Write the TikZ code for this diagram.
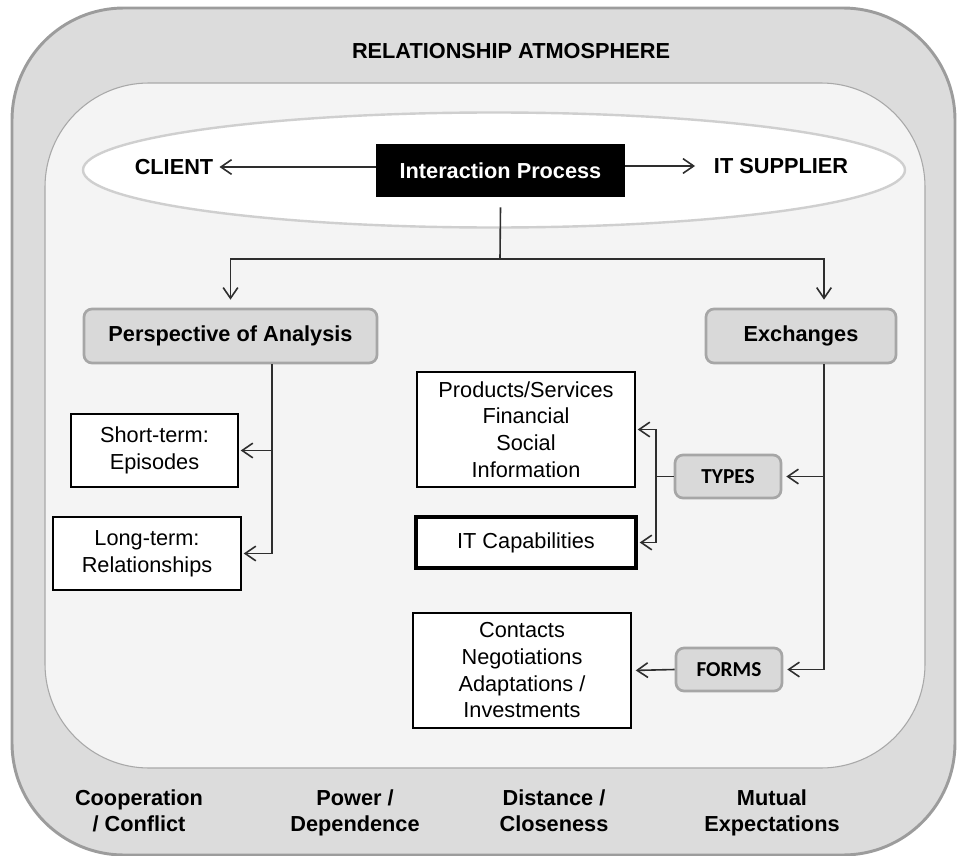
\documentclass[tikz,border=0pt]{standalone}
\usepackage{fontspec}
\setmainfont{Liberation Sans}
\newfontfamily\calib{Carlito}
\usetikzlibrary{arrows.meta,shapes.geometric}
\definecolor{outerfill}{HTML}{DCDCDC}
\definecolor{outerline}{HTML}{9C9C9C}
\definecolor{innerfill}{HTML}{F4F4F4}
\definecolor{innerline}{HTML}{A8A8A8}
\definecolor{ellline}{HTML}{CFCFCF}
\definecolor{boxfill}{HTML}{D9D9D9}
\definecolor{boxline}{HTML}{A6A6A6}
\definecolor{connc}{HTML}{2E2E2E}
\tikzset{
  big/.style={font=\fontsize{16.3pt}{20pt}\selectfont\bfseries, align=center},
  reg/.style={font=\fontsize{16.3pt}{20pt}\selectfont, align=center},
  graybox/.style={big, draw=boxline, line width=2pt, fill=boxfill, rounded corners=6pt, inner sep=0pt},
  smallbox/.style={graybox, font=\fontsize{16pt}{19pt}\selectfont\calib\bfseries, minimum width=79.5pt, minimum height=32.25pt},
  textbox/.style={reg, draw=black, line width=1.1pt, fill=white, inner sep=0pt},
  conn/.style={draw=connc, line width=1.2pt},
  arr/.style={conn, -{Straight Barb[length=8pt,width=11pt,line width=1.2pt]}},
  lab/.style={big, inner sep=0pt}
}
\begin{document}
\begin{tikzpicture}[x=0.75pt,y=-0.75pt]
\useasboundingbox (0,0) rectangle (957,856);
% outer atmosphere
\draw[fill=outerfill, draw=outerline, line width=2.2pt, rounded corners=84pt] (12,8) rectangle (955,855);
% inner area
\draw[fill=innerfill, draw=innerline, line width=0.8pt, rounded corners=78pt] (45,83) rectangle (925,768);
\node[lab] (atm) at (511,51) {RELATIONSHIP ATMOSPHERE};
% ellipse
\node[ellipse, draw=ellline, fill=white, line width=1.8pt, minimum width=616.5pt, minimum height=86.25pt, inner sep=0pt] (ell) at (494,170) {};
\node[big, fill=black, text=white, minimum width=186.75pt, minimum height=39.75pt, inner sep=0pt] (ip) at (500.5,170.5) {Interaction Process};
\node[lab, inner xsep=4.5pt] (client) at (174,167) {CLIENT};
\node[lab, inner xsep=14pt] (sup) at (781,166) {IT SUPPLIER};
\draw[arr] (ip.west |- client) -- (client.east);
\draw[arr] (ip.east |- sup) -- (sup.west);
% level 2
\node[graybox, minimum width=219.75pt, minimum height=40.5pt] (persp) at (230.5,336) {Perspective of Analysis};
\node[graybox, minimum width=142.5pt, minimum height=40.5pt] (exch) at (801,336) {Exchanges};
\coordinate (j1) at (500,259);
\coordinate (ev) at (824,400);
\coordinate (pv) at (272,400);
\coordinate (tv) at (656,400);
\draw[conn] ([yshift=-7.5pt]ip.south) -- (j1);
\draw[arr, shorten >=6pt] (j1) -| (persp.north);
\draw[arr, shorten >=6pt] (j1) -| (exch.north -| ev);
% perspective children
\node[textbox, minimum width=125.25pt, minimum height=54.75pt] (short) at (154.5,450.5) {Short-term:\\Episodes};
\node[textbox, minimum width=141pt, minimum height=54.75pt] (long) at (147,553.5) {Long-term:\\Relationships};
\draw[arr, shorten >=1.5pt] (persp.south -| pv) |- (long.east);
\draw[arr, shorten >=1.5pt] (pv |- short) -- (short.east);
% exchanges children
\node[smallbox] (types) at (728,476.5) {TYPES};
\node[smallbox] (forms) at (729,669.5) {FORMS};
\node[textbox, minimum width=163.5pt, minimum height=86.25pt] (prod) at (526,429.5) {Products/Services\\Financial\\Social\\Information};
\node[textbox, line width=2.6pt, minimum width=165pt, minimum height=38.25pt] (itcap) at (526,542.5) {IT Capabilities};
\node[textbox, minimum width=163.5pt, minimum height=86.25pt] (cont) at (522,670.5) {Contacts\\Negotiations\\Adaptations /\\Investments};
\draw[arr, shorten >=3pt] (exch.south -| ev) |- (forms.east);
\draw[arr, shorten >=3pt] (ev |- types) -- (types.east);
\draw[conn] (types.west) -- (tv |- types);
\draw[arr, shorten >=1.5pt] (tv |- types) |- (prod.east);
\draw[arr, shorten >=1.5pt] (tv |- types) |- (itcap.east);
\draw[arr, shorten >=3pt] (forms.west) -- (cont.east);
% bottom labels
\node[lab] (coop) at (139,813) {Cooperation\strut\\/ Conflict\strut};
\node[lab] (pow) at (355,813) {Power /\strut\\Dependence\strut};
\node[lab] (dist) at (554,813) {Distance /\strut\\Closeness\strut};
\node[lab] (mut) at (772,813) {Mutual\strut\\Expectations\strut};
\end{tikzpicture}
\end{document}
